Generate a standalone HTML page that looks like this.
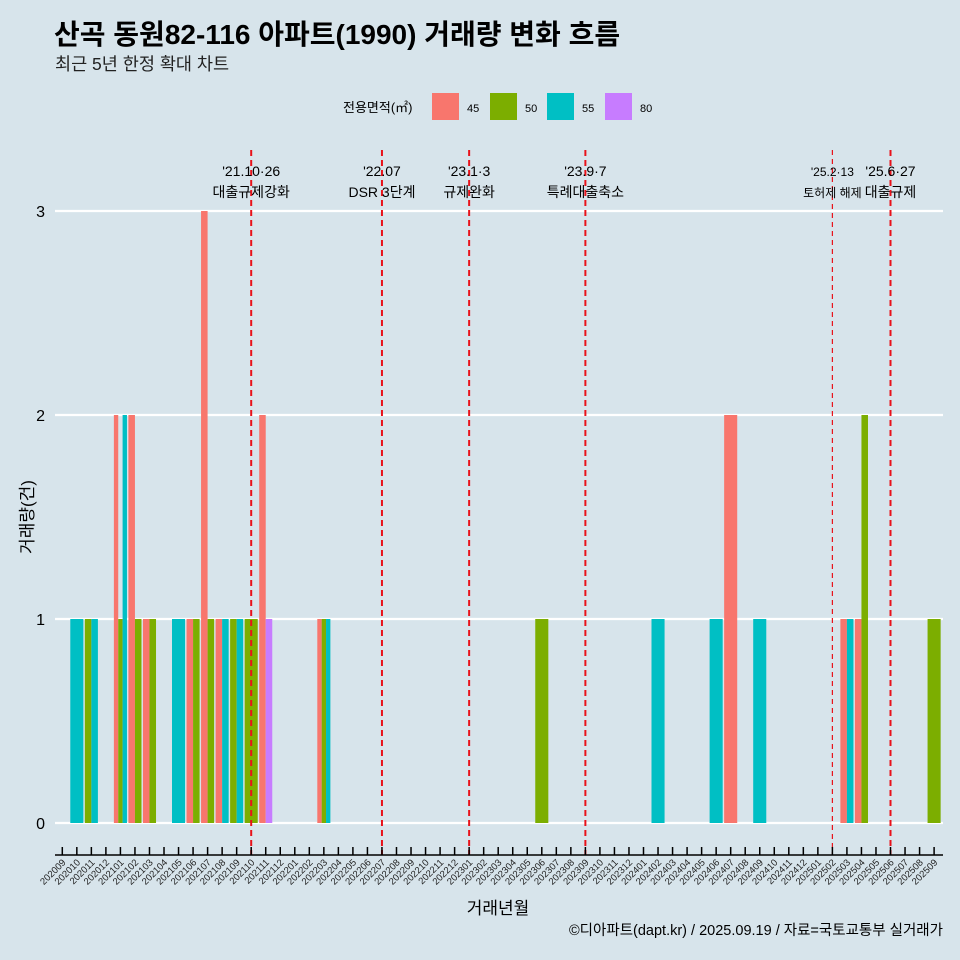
<!DOCTYPE html>
<html><head><meta charset="utf-8"><style>
body{margin:0;background:#d7e4eb;}
svg{display:block;font-family:"Liberation Sans","Noto Sans CJK KR",sans-serif;}
</style></head><body>
<svg id="chart" width="960" height="960" viewBox="0 0 960 960" xmlns="http://www.w3.org/2000/svg">
<rect width="960" height="960" fill="#d7e4eb"/>
<text x="54" y="44" font-size="28" font-weight="bold" fill="#000">산곡 동원82-116 아파트(1990) 거래량 변화 흐름</text>
<text x="55" y="70" font-size="17.5" fill="#222">최근 5년 한정 확대 차트</text>
<g>
<text x="343" y="112" font-size="13" fill="#000">전용면적(㎡)</text>
<rect x="432" y="93" width="27" height="27" fill="#F8766D"/>
<text x="467" y="112" font-size="11">45</text>
<rect x="490" y="93" width="27" height="27" fill="#7CAE00"/>
<text x="525" y="112" font-size="11">50</text>
<rect x="547" y="93" width="27" height="27" fill="#00BFC4"/>
<text x="582" y="112" font-size="11">55</text>
<rect x="605" y="93" width="27" height="27" fill="#C77CFF"/>
<text x="640" y="112" font-size="11">80</text>
</g>
<g id="grid"></g><g id="bars"></g><g id="events"></g><g id="axes"></g>
<text x="498" y="914" font-size="17" text-anchor="middle">거래년월</text>
<text transform="translate(33,517) rotate(-90)" font-size="17" text-anchor="middle">거래량(건)</text>
<text x="943" y="935" font-size="14.5" text-anchor="end">©디아파트(dapt.kr) / 2025.09.19 / 자료=국토교통부 실거래가</text>
</svg>
<script>
const months=[];
for(let y=2020;y<=2025;y++)for(let m=1;m<=12;m++){const k=y*100+m;if(k>=202009&&k<=202509)months.push(String(k));}
const types=["45","50","55","80"];
const colors=["#F8766D","#7CAE00","#00BFC4","#C77CFF"];
const s45=[0,0,0,0,2,2,1,0,0,1, 3,1,0,0,2,0,0,0,1,0, 0,0,0,0,0,0,0,0,0,0, 0,0,0,0,0,0,0,0,0,0, 0,0,0,0,0,0,2,0,0,0, 0,0,0,0,1,1,0,0,0,0, 0];
const s50=[0,0,1,0,1,1,1,0,0,1, 1,0,1,1,0,0,0,0,1,0, 0,0,0,0,0,0,0,0,0,0, 0,0,0,1,0,0,0,0,0,0, 0,0,0,0,0,0,0,0,0,0, 0,0,0,0,0,2,0,0,0,0, 1];
const s55=[0,1,1,0,2,0,0,0,1,0, 0,1,1,0,0,0,0,0,1,0, 0,0,0,0,0,0,0,0,0,0, 0,0,0,0,0,0,0,0,0,0, 0,1,0,0,0,1,0,0,1,0, 0,0,0,0,1,0,0,0,0,0, 0];
const s80=[0,0,0,0,0,0,0,0,0,0, 0,0,0,0,1,0,0,0,0,0, 0,0,0,0,0,0,0,0,0,0, 0,0,0,0,0,0,0,0,0,0, 0,0,0,0,0,0,0,0,0,0, 0,0,0,0,0,0,0,0,0,0, 0];
const yTicks=[0,1,2,3];
const eventMonths=["202110","202207","202301","202309","202502","202506"];
const eventLine1=["'21.10·26","'22.07","'23.1·3","'23.9·7","'25.2·13","'25.6·27"];
const eventLine2=["대출규제강화","DSR 3단계","규제완화","특례대출축소","토허제 해제","대출규제"];
const series=[s45,s50,s55,s80];
const NS="http://www.w3.org/2000/svg";
const X=i=>62.3+i*14.53;
const Y=v=>823-v*204;
function mk(tag,attrs,parent){const e=document.createElementNS(NS,tag);for(const k in attrs)e.setAttribute(k,attrs[k]);document.getElementById(parent).appendChild(e);return e;}
yTicks.forEach(t=>{
 const g=mk("line",{x1:55,x2:943,y1:Y(t),y2:Y(t),stroke:"#fff","stroke-width":2.2},"grid");
 
 
 const l=mk("text",{x:45,y:Y(t)+6,"font-size":16,"text-anchor":"end"},"grid");
 l.textContent=t;
 
 
});
months.forEach((m,i)=>{
 const present=[];series.forEach((s,k)=>{if(s[i]>0)present.push(k);});
 const w=14.53*0.9/Math.max(present.length,1);
 const x0=X(i)-14.53*0.45;
 present.forEach((k,j)=>{
  const v=series[k][i];
  const r=mk("rect",{x:x0+j*w,y:Y(v),width:w,height:Y(0)-Y(v),fill:colors[k]},"bars");
  
  
 });
 const t=mk("line",{x1:X(i),x2:X(i),y1:847,y2:855,stroke:"#000","stroke-width":1.5},"axes");
 
 
 const lb=mk("text",{transform:`translate(${X(i)+4},863) rotate(-45)`,"font-size":9.5,"text-anchor":"end",fill:"#222"},"axes");
 lb.textContent=m;
 
 
});
const ax=mk("line",{x1:55,x2:943,y1:855,y2:855,stroke:"#000","stroke-width":1.5},"axes");


eventMonths.forEach((m,k)=>{
 const i=months.indexOf(m);const x=X(i);
 const thin=(m==="202502");
 const ln=mk("line",{x1:x,x2:x,y1:150,y2:855,stroke:"#e8121a","stroke-width":thin?1.2:2,"stroke-dasharray":thin?"5,4":"6,4"},"events");
 
 
 const fs=thin?12:14;
 const t1=mk("text",{x:x,y:176,"font-size":fs,"text-anchor":"middle"},"events");
 t1.textContent=eventLine1[k];
 
 
 const t2=mk("text",{x:x,y:197,"font-size":fs,"text-anchor":"middle"},"events");
 t2.textContent=eventLine2[k];
 
 
});
</script>
</body></html>
